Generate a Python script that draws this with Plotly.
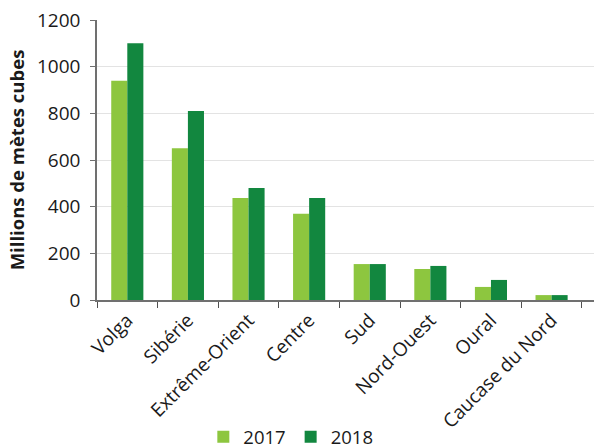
import plotly.graph_objects as go

regions = ["Volga", "Sibérie", "Extrême-Orient", "Centre", "Sud", "Nord-Ouest", "Oural", "Caucase du Nord"]
v2017 = [940, 650, 437, 370, 154, 133, 56, 21]
v2018 = [1100, 810, 480, 437, 154, 146, 86, 21]
yticks = [0, 200, 400, 600, 800, 1000, 1200]

FONT = "Open Sans"
fig = go.Figure()
fig.add_trace(go.Bar(x=regions, y=v2017, name="2017", marker_color="#8DC63F", marker_line_width=0))
fig.add_trace(go.Bar(x=regions, y=v2018, name="2018", marker_color="#12873F", marker_line_width=0))

fig.update_layout(
    width=595, height=448,
    margin=dict(l=97, r=1, t=20, b=148, autoexpand=False),
    paper_bgcolor="white", plot_bgcolor="white",
    barmode="group", bargap=0.47, bargroupgap=0,
    font=dict(family=FONT, size=19, color="#1a1a1a"),
    legend=dict(orientation="h", x=0.39, xanchor="center", y=-0.49, yanchor="middle",
                font=dict(size=18.5), itemwidth=30, traceorder="normal"),
    xaxis=dict(range=[-0.5, 7.7], showline=True, linecolor="#707070", linewidth=1.5,
               ticks="outside", tickson="boundaries", ticklen=6, tickcolor="#505050",
               tickangle=-45, tickfont=dict(size=19), showgrid=False, automargin=False),
    yaxis=dict(range=[0, 1200], tickvals=yticks, showline=True, linecolor="#707070", linewidth=1.5,
               ticks="outside", ticklen=5, tickcolor="#707070", ticklabelstandoff=6,
               gridcolor="#e3e3e3", gridwidth=1, tickfont=dict(size=19),
               title=dict(text="<b>Millions de mètes cubes</b>", font=dict(size=18.5), standoff=8),
               zeroline=False, automargin=False),
)
fig.write_html("out.html")
